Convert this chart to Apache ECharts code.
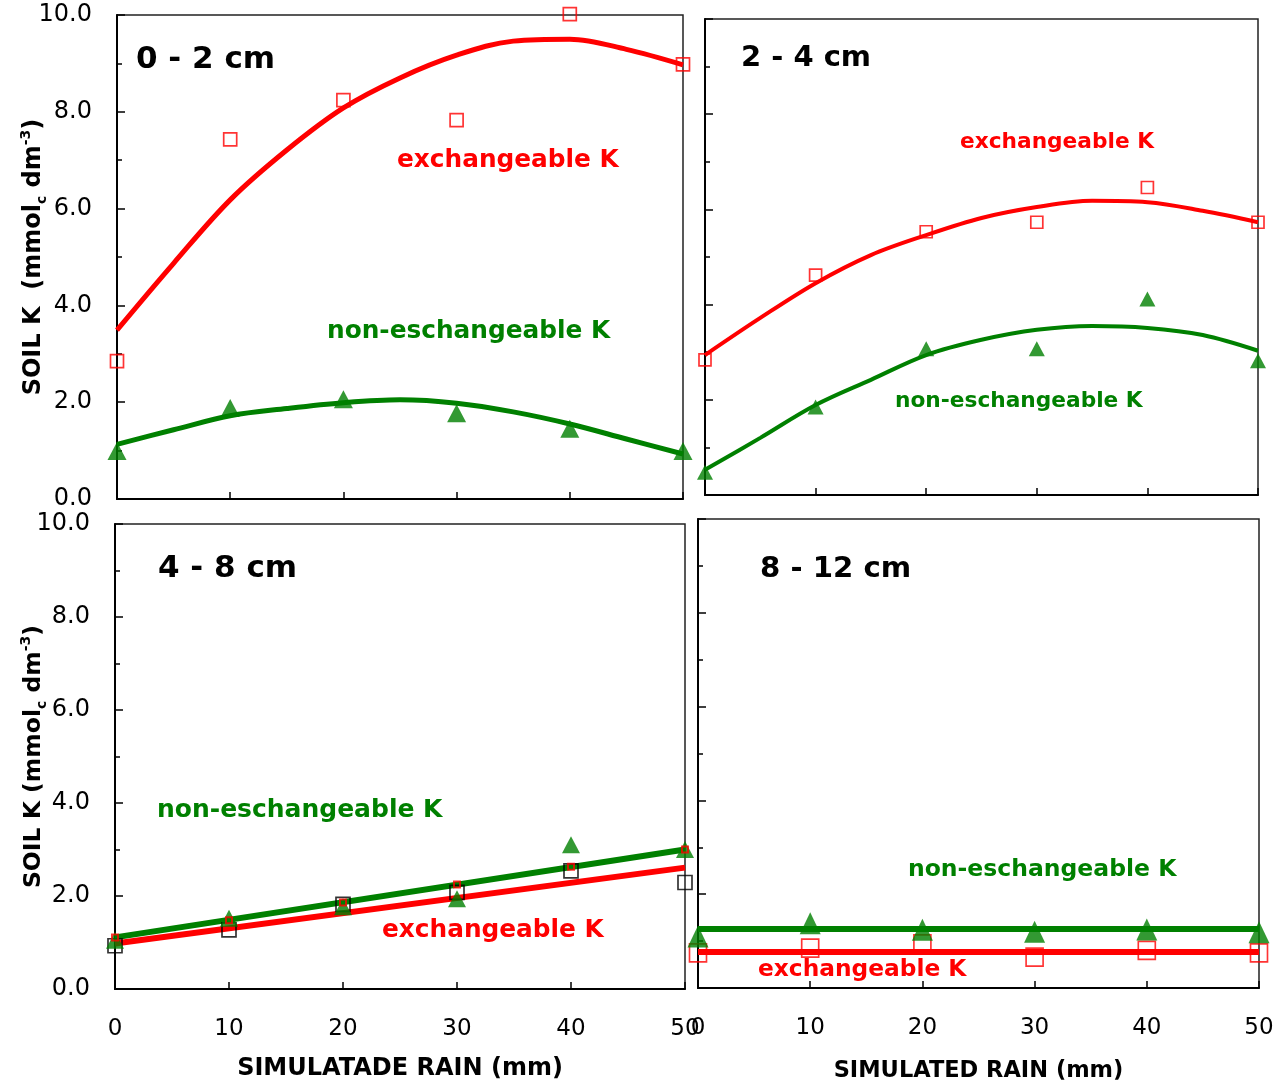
<!DOCTYPE html>
<html>
<head>
<meta charset="utf-8">
<script src="https://cdn.jsdelivr.net/npm/echarts@6/dist/echarts.min.js"></script>
<style>
html,body{margin:0;padding:0;background:#fff;}
#chart{width:1278px;height:1088px;}
</style>
</head>
<body>
<div id="chart"></div>
<script>
// ---------- DATA ----------
const rain = [0, 10, 20, 30, 40, 50];
const rainFit = [0, 5, 10, 15, 20, 25, 30, 35, 40, 45, 50];
const rainLine = [0, 50];
const yTicks = [0, 2, 4, 6, 8, 10];

// 0 - 2 cm
const exFit02 = [3.49, 4.87, 6.18, 7.21, 8.08, 8.70, 9.17, 9.46, 9.50, 9.29, 8.97];
const exObs02 = [2.85, 7.43, 8.24, 7.83, 10.02, 8.98];
const nonFit02 = [1.13, 1.43, 1.72, 1.87, 1.99, 2.05, 1.98, 1.80, 1.55, 1.24, 0.93];
const nonObs02 = [0.99, 1.88, 2.06, 1.77, 1.45, 0.99];

// 2 - 4 cm
const exFit24 = [2.94, 3.72, 4.45, 5.04, 5.46, 5.82, 6.05, 6.18, 6.15, 5.97, 5.73];
const exObs24 = [2.84, 4.62, 5.53, 5.73, 6.46, 5.73];
const nonFit24 = [0.53, 1.20, 1.89, 2.42, 2.94, 3.26, 3.47, 3.55, 3.51, 3.36, 3.03];
const nonObs24 = [0.48, 1.85, 3.07, 3.07, 4.12, 2.82];

// 4 - 8 cm
const nonFit48 = [1.11, 3.00];
const exFit48 = [0.98, 2.61];
const nonObs48 = [1.05, 1.52, 1.77, 1.94, 3.10, 3.00];
const exObs48 = [0.93, 1.27, 1.82, 2.08, 2.54, 2.29];
const fitMark48 = [1.11, 1.48, 1.86, 2.25, 2.63, 3.00];

// 8 - 12 cm
const nonFit812 = [1.26, 1.26];
const exFit812 = [0.77, 0.77];
const nonObs812 = [1.10, 1.38, 1.24, 1.20, 1.25, 1.19];
const exObs812 = [0.75, 0.85, 0.94, 0.66, 0.80, 0.75];

const panelTitles = ['0 - 2 cm', '2 - 4 cm', '4 - 8 cm', '8 - 12 cm'];
const exLabel = 'exchangeable K';
const nonLabel = 'non-eschangeable K';
const yName1 = '{b|SOIL K  (mmol}{s|c}{b| dm}{p|-3}{b|)}';
const yName2 = '{b|SOIL K (mmol}{s|c}{b| dm}{p|-3}{b|)}';
const xName1 = 'SIMULATADE RAIN (mm)';
const xName2 = 'SIMULATED RAIN (mm)';

// ---------- STYLE ----------
const RED = '#ff0000', GREEN = '#008000';
const FF = '"DejaVu Sans", sans-serif';
const pair = (xs, ys) => xs.map((x, i) => [x, ys[i]]);

const grids = [
  {left: 117, top: 15, width: 566, height: 484},
  {left: 705, top: 19, width: 553, height: 476},
  {left: 115, top: 524, width: 570, height: 465},
  {left: 698, top: 519, width: 561, height: 469}
].map(g => Object.assign(g, {show: true, borderColor: '#222', borderWidth: 1.5, backgroundColor: 'transparent'}));

function nameRich(size) {
  return {
    b: {fontSize: size, fontWeight: 'bold', fontFamily: FF, color: '#000', lineHeight: 30, verticalAlign: 'middle'},
    s: {fontSize: 14, fontWeight: 'bold', fontFamily: FF, color: '#000', lineHeight: 15, verticalAlign: 'bottom'},
    p: {fontSize: 14, fontWeight: 'bold', fontFamily: FF, color: '#000', lineHeight: 15, verticalAlign: 'top'}
  };
}

function xAxis(i, showLabel, name, gap, nsize) {
  return {
    type: 'value', gridIndex: i, min: 0, max: 50, interval: 10,
    axisLine: {show: true, onZero: false, lineStyle: {color: '#000', width: 2}},
    axisTick: {show: true, inside: true, length: 7, lineStyle: {color: '#000', width: 1.5}},
    axisLabel: {show: showLabel, fontSize: 23, fontFamily: FF, color: '#000', margin: 29},
    splitLine: {show: false},
    name: name || '', nameLocation: 'middle', nameGap: gap || 0, nameMoveOverlap: false,
    nameTextStyle: {fontSize: nsize || 24, fontWeight: 'bold', fontFamily: FF, color: '#000', verticalAlign: 'top'}
  };
}
function yAxis(i, showLabel, name, gap, nsize) {
  return {
    type: 'value', gridIndex: i, min: yTicks[0], max: yTicks[yTicks.length - 1], interval: 2,
    axisLine: {show: true, onZero: false, lineStyle: {color: '#000', width: 2}},
    axisTick: {show: true, inside: true, length: 8, lineStyle: {color: '#000', width: 1.5}},
    minorTick: {show: true, splitNumber: 2, length: 5, lineStyle: {color: '#000', width: 1.5}},
    axisLabel: {show: showLabel, fontSize: 24, fontFamily: FF, color: '#000', margin: 25,
      formatter: v => v.toFixed(1)},
    splitLine: {show: false},
    name: name || '', nameLocation: 'middle', nameRotate: 90, nameGap: gap || 0, nameMoveOverlap: false,
    nameTextStyle: {rich: nameRich(nsize || 24)}
  };
}

function line(i, xs, ys, color, w, smooth) {
  return {type: 'line', xAxisIndex: i, yAxisIndex: i, data: pair(xs, ys), smooth: smooth ? 0.35 : false,
    showSymbol: false, symbol: 'none', lineStyle: {color: color, width: w}, silent: true, z: 2};
}
function squares(i, ys, color, size, bw, z) {
  return {type: 'scatter', xAxisIndex: i, yAxisIndex: i, data: pair(rain, ys), symbol: 'rect',
    symbolSize: size, clip: false, z: z || 3,
    itemStyle: {color: 'rgba(0,0,0,0)', borderColor: color, borderWidth: bw}};
}
function triangles(i, ys, size) {
  return {type: 'scatter', xAxisIndex: i, yAxisIndex: i, data: pair(rain, ys), symbol: 'triangle',
    symbolSize: size, clip: false, z: 4, itemStyle: {color: GREEN}};
}

function txt(x, y, text, size, color) {
  return {type: 'text', x: x, y: y, z: 10,
    style: {text: text, font: 'bold ' + size + 'px ' + FF, fill: color, verticalAlign: 'middle', align: 'left'}};
}

const option = {
  backgroundColor: '#fff',
  animation: false,
  grid: grids,
  xAxis: [xAxis(0, false), xAxis(1, false), xAxis(2, true, xName1, 68, 24), xAxis(3, true, xName2, 72, 22.5)],
  yAxis: [yAxis(0, true, yName1, 68, 24), yAxis(1, false), yAxis(2, true, yName2, 66, 23.5), yAxis(3, false)],
  series: [
    line(0, rainFit, exFit02, RED, 5, true),
    line(0, rainFit, nonFit02, GREEN, 5, true),
    squares(0, exObs02, RED, 13, 1.7),
    triangles(0, nonObs02, [19, 18]),

    line(1, rainFit, exFit24, RED, 4, true),
    line(1, rainFit, nonFit24, GREEN, 4, true),
    squares(1, exObs24, RED, 12, 1.7),
    triangles(1, nonObs24, [16, 15]),

    line(2, rainLine, nonFit48, GREEN, 6, false),
    line(2, rainLine, exFit48, RED, 6, false),
    squares(2, exObs48, '#000', 14, 1.7),
    triangles(2, nonObs48, [18, 17]),
    squares(2, fitMark48, RED, 6, 2, 5),

    line(3, rainLine, nonFit812, GREEN, 6, false),
    line(3, rainLine, exFit812, RED, 6, false),
    squares(3, exObs812, RED, [17, 18], 1.7),
    triangles(3, nonObs812, [21, 22])
  ],
  graphic: [
    txt(136, 60, panelTitles[0], 31, '#000'),
    txt(397, 161, exLabel, 24.8, RED),
    txt(327, 332, nonLabel, 24.8, GREEN),

    txt(741, 58, panelTitles[1], 29, '#000'),
    txt(960, 142, exLabel, 21.7, RED),
    txt(895, 401, nonLabel, 21.7, GREEN),

    txt(158, 569, panelTitles[2], 31, '#000'),
    txt(157, 810, nonLabel, 25, GREEN),
    txt(382, 931, exLabel, 24.8, RED),

    txt(760, 569, panelTitles[3], 29.2, '#000'),
    txt(908, 870, nonLabel, 23.5, GREEN),
    txt(758, 970, exLabel, 23.3, RED)
  ]
};

const chart = echarts.init(document.getElementById('chart'), null, {renderer: 'canvas'});
chart.setOption(option);
</script>
</body>
</html>
